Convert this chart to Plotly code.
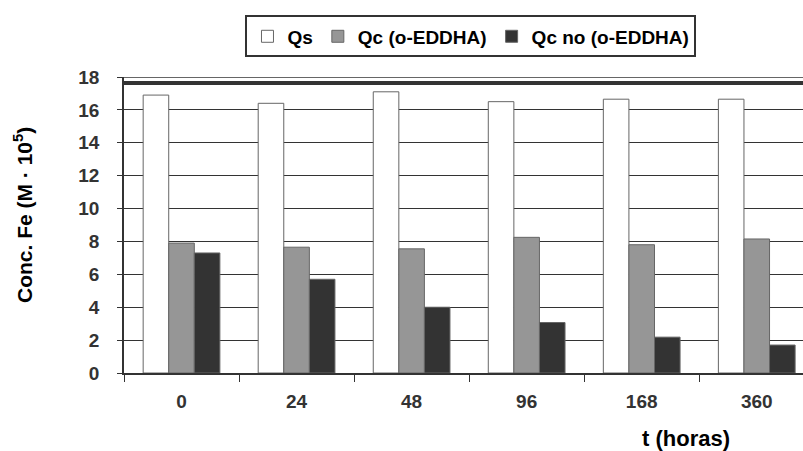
import plotly.graph_objects as go

categories = ["0", "24", "48", "96", "168", "360"]
qs = [16.9, 16.4, 17.1, 16.5, 16.65, 16.65]
qc_eddha = [7.9, 7.65, 7.55, 8.25, 7.8, 8.15]
qc_no_eddha = [7.3, 5.7, 4.0, 3.07, 2.18, 1.7]
series_names = ["Qs", "Qc (o-EDDHA)", "Qc no (o-EDDHA)"]
series_colors = ["#FFFFFF", "#969696", "#333333"]
y_ticks = [0, 2, 4, 6, 8, 10, 12, 14, 16, 18]
limit_line = 17.64
top_line = 18

FONT = "Liberation Sans, Arial, sans-serif"
TXT = "#333333"

fig = go.Figure()
for name, vals, col in zip(series_names, [qs, qc_eddha, qc_no_eddha], series_colors):
    fig.add_trace(go.Bar(
        x=categories, y=vals, name=name,
        marker=dict(color=col, line=dict(color="#666666", width=1)),
    ))

fig.add_shape(type="line", xref="paper", x0=0, x1=1, yref="y", y0=top_line, y1=top_line,
              line=dict(color="#333333", width=1.5), layer="above")
fig.add_shape(type="line", xref="paper", x0=0, x1=1, yref="y", y0=limit_line, y1=limit_line,
              line=dict(color="#333333", width=4), layer="above")

fig.update_layout(
    width=803, height=451,
    margin=dict(l=124, r=0, t=77, b=78),
    paper_bgcolor="white", plot_bgcolor="white",
    barmode="group", bargap=0.333, bargroupgap=0,
    font=dict(family=FONT, color=TXT, size=18, weight="bold"),
    showlegend=True,
    legend=dict(orientation="h", x=0.511, xanchor="center", y=1.208, yanchor="top",
                bordercolor="#333333", borderwidth=2, bgcolor="white",
                font=dict(family=FONT, size=19, color="black", weight="bold"),
                itemwidth=30, traceorder="normal", tracegroupgap=0),
    xaxis=dict(type="category", range=[-0.5, 5.402], showgrid=False,
               showline=True, linecolor="#333333", linewidth=1.5,
               ticks="outside", ticklen=7, tickcolor="#333333", tickwidth=1,
               tickson="boundaries", ticklabelstandoff=10,
               tickfont=dict(family=FONT, size=19, color=TXT, weight="bold")),
    yaxis=dict(range=[0, 18], tickvals=y_ticks, showgrid=True, gridcolor="#333333", gridwidth=1,
               showline=True, linecolor="#333333", linewidth=1.5, zeroline=False,
               ticks="outside", ticklen=5, tickcolor="#333333", ticklabelstandoff=14,
               tickfont=dict(family=FONT, size=19, color=TXT, weight="bold")),
)

fig.add_annotation(text="t (horas)", xref="paper", yref="paper",
                   x=(686 - 124) / 679, y=-(438 - 373) / 296, xanchor="center", yanchor="middle",
                   showarrow=False, font=dict(family=FONT, size=22, color="black", weight="bold"))
fig.add_annotation(text="Conc. Fe (M · 10<sup>5</sup>)", xref="paper", yref="paper",
                   x=(23 - 124) / 679, y=(373 - 215) / 296, xanchor="center", yanchor="middle",
                   textangle=-90, showarrow=False,
                   font=dict(family=FONT, size=21, color="black", weight="bold"))

fig.write_html("out.html")
